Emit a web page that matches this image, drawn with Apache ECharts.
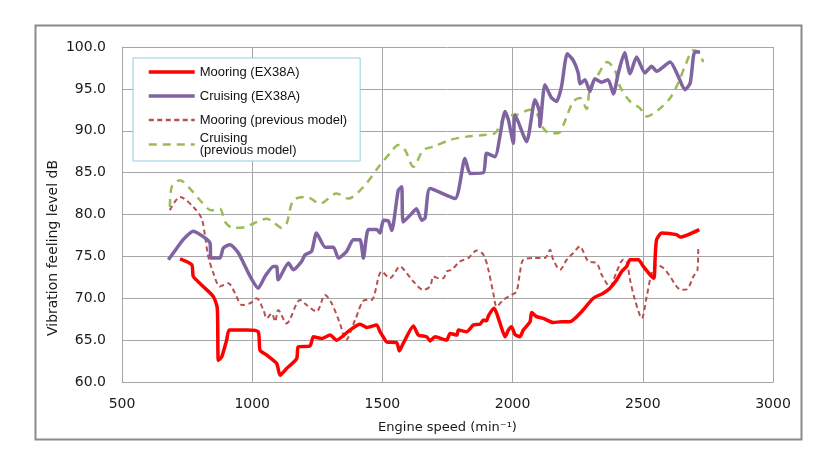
<!DOCTYPE html>
<html>
<head>
<meta charset="utf-8">
<script src="https://cdn.jsdelivr.net/npm/echarts@6/dist/echarts.min.js"></script>
<style>
html,body{margin:0;padding:0;background:#fff;}
#c{width:838px;height:470px;}
</style>
</head>
<body>
<div id="c"></div>
<script>
// ---- tick labels ----
const xTicks = [500, 1000, 1500, 2000, 2500, 3000];
const yTicks = [60, 65, 70, 75, 80, 85, 90, 95, 100];

// ---- series names ----
const seriesNames = ['Mooring (EX38A)', 'Cruising (EX38A)', 'Mooring (previous model)', 'Cruising\n(previous model)'];

// ---- Mooring (EX38A) ----
const mooringNewRpm = [723,768,774,812,851,866,870,883,902,912,979,1023,1030,1056,1094,1107,1132,1171,1177,1222,1235,1267,1299,1324,1375,1414,1440,1478,1491,1503,1516,1555,1565,1580,1619,1638,1670,1683,1702,1747,1760,1786,1792,1824,1849,1875,1888,1900,1907,1929,1939,1952,1971,1984,1996,2009,2028,2041,2067,2073,2092,2118,2156,2188,2220,2259,2310,2348,2374,2400,2419,2438,2451,2483,2502,2528,2543,2547,2553,2573,2630,2643,2675,2717];
const mooringNewDb  = [74.7,74.0,72.6,71.4,70.2,68.8,62.6,63.0,65.0,66.2,66.2,66.0,63.8,63.2,62.2,60.8,61.6,62.8,64.2,64.3,65.4,65.2,65.6,65.0,66.2,66.9,66.5,66.8,66.0,65.4,64.8,64.7,63.7,64.6,66.7,65.6,65.4,64.9,65.4,65.0,65.8,65.6,66.2,66.0,66.8,66.9,67.4,67.3,67.9,68.8,68.2,67.0,65.4,66.2,66.6,65.7,65.4,66.2,67.2,68.3,67.8,67.6,67.1,67.2,67.2,68.2,70.0,70.6,71.2,72.2,73.2,73.8,74.6,74.6,73.8,72.8,72.4,74.6,77.0,77.8,77.6,77.3,77.6,78.2];

// ---- Cruising (EX38A) ----
const cruisingNewRpm = [678,697,735,774,819,838,842,876,889,915,947,992,1023,1049,1081,1094,1100,1139,1158,1190,1203,1228,1247,1280,1312,1331,1363,1388,1414,1427,1446,1478,1491,1504,1523,1536,1561,1574,1580,1612,1631,1651,1664,1683,1779,1817,1837,1888,1900,1932,1971,1984,2003,2009,2054,2086,2103,2105,2124,2150,2169,2188,2210,2233,2252,2259,2278,2297,2316,2342,2367,2387,2406,2430,2451,2476,2508,2534,2553,2605,2636,2662,2682,2694,2700,2720];
const cruisingNewDb  = [74.6,75.4,77.0,78.0,77.2,76.6,74.8,74.8,76.0,76.4,75.4,72.6,71.2,72.6,73.8,73.8,72.2,74.2,73.4,74.4,75.2,75.6,77.8,76.1,76.1,74.8,75.6,77.0,77.0,74.8,78.2,78.2,77.8,79.3,79.2,78.1,82.9,83.3,79.1,80.1,80.7,79.3,79.6,83.1,81.9,86.7,84.9,85.0,87.3,86.9,92.3,91.3,88.5,91.9,88.7,93.7,92.3,90.5,95.5,93.9,93.5,95.3,99.2,98.4,96.9,95.6,96.1,94.7,96.2,95.8,96.1,94.4,96.9,99.3,96.8,98.8,96.9,97.7,97.1,98.2,96.5,94.9,95.7,98.8,99.4,99.4];

// ---- Mooring (previous model) ----
const mooringOldRpm = [684,723,774,806,819,831,851,876,908,934,960,992,1017,1043,1056,1075,1088,1100,1132,1184,1209,1247,1280,1305,1337,1360,1395,1433,1458,1497,1529,1568,1593,1619,1657,1683,1696,1715,1734,1747,1766,1798,1830,1862,1888,1907,1926,1939,1964,1996,2015,2028,2041,2080,2124,2144,2156,2182,2208,2233,2259,2271,2291,2323,2342,2374,2400,2425,2438,2451,2470,2496,2515,2534,2553,2579,2605,2630,2649,2671,2694,2710,2713];
const mooringOldDb  = [80.5,82.1,80.9,79.5,77.4,75.0,73.0,71.4,71.8,70.6,69.2,69.4,70.0,68.6,67.6,68.2,67.2,68.6,67.0,69.8,69.2,68.4,70.4,69.4,67.0,65.0,67.4,69.8,69.8,73.2,72.4,73.8,73.0,72.0,71.0,71.4,72.6,72.4,72.4,73.2,73.4,74.4,74.8,75.7,75.2,73.4,70.6,69.0,69.8,70.4,70.8,73.0,74.6,74.8,74.8,75.8,74.6,73.4,74.6,75.4,76.2,75.6,74.4,74.2,72.8,71.4,73.2,74.6,74.4,72.2,69.8,67.6,70.2,73.0,74.0,73.6,72.6,71.4,71.0,71.1,72.6,73.4,76.2];

// ---- Cruising (previous model) ----
const cruisingOldRpm = [684,691,723,761,800,844,876,896,927,972,1004,1056,1081,1113,1132,1158,1209,1260,1324,1369,1427,1491,1529,1561,1587,1619,1657,1696,1760,1824,1888,1932,1971,2015,2067,2092,2118,2144,2176,2195,2233,2259,2284,2297,2323,2364,2393,2412,2451,2489,2515,2560,2605,2636,2662,2694,2713,2732];
const cruisingOldDb  = [80.9,83.3,84.1,83.1,81.7,80.5,80.7,79.1,78.4,78.5,78.9,79.5,79.1,78.4,78.9,81.7,82.1,81.3,82.5,81.9,83.3,85.9,87.3,88.3,87.7,85.7,87.7,88.1,88.9,89.3,89.5,89.7,91.7,91.9,92.5,92.1,90.3,89.7,89.7,90.7,93.5,93.9,92.6,95.1,96.4,98.2,97.2,95.3,93.5,92.7,91.7,92.5,93.9,95.7,97.7,99.6,99.4,98.2];

function pairs(xs, ys) { return xs.map((x, i) => [x, ys[i]]); }

const chart = echarts.init(document.getElementById('c'), null, {renderer: 'canvas'});
const gridColor = '#a6a6a6';
const labelFont = 'DejaVu Sans';

chart.setOption({
  animation: false,
  backgroundColor: '#fff',
  grid: {left: 122, right: 65, top: 47, bottom: 88, containLabel: false},
  xAxis: {
    type: 'value',
    min: xTicks[0], max: xTicks[xTicks.length - 1], interval: xTicks[1] - xTicks[0],
    name: 'Engine speed (min\u207B\u00B9)',
    nameLocation: 'middle', nameGap: 39,
    nameTextStyle: {fontFamily: labelFont, fontSize: 13, color: '#1a1a1a'},
    axisLine: {show: true, lineStyle: {color: gridColor, width: 1}},
    axisTick: {show: false},
    axisLabel: {margin: 15, fontFamily: labelFont, fontSize: 14, color: '#1a1a1a',
      formatter: v => String(v)},
    splitLine: {show: true, lineStyle: {color: gridColor, width: 1}}
  },
  yAxis: {
    type: 'value',
    min: yTicks[0], max: yTicks[yTicks.length - 1], interval: yTicks[1] - yTicks[0],
    axisLine: {show: true, lineStyle: {color: gridColor, width: 1}},
    axisTick: {show: false},
    axisLabel: {margin: 16, fontFamily: labelFont, fontSize: 14, color: '#1a1a1a',
      formatter: v => v.toFixed(1)},
    splitLine: {show: true, lineStyle: {color: gridColor, width: 1}}
  },
  legend: {
    orient: 'vertical', left: 133, top: 58,
    padding: [2, 13, 4, 14],
    itemWidth: 46, itemHeight: 14, itemGap: 0,
    borderColor: '#92cddc', borderWidth: 1, backgroundColor: '#fff',
    itemStyle: {color: 'rgba(0,0,0,0)', opacity: 0, borderWidth: 0},
    textStyle: {fontFamily: 'Liberation Sans', fontSize: 13, color: '#111', lineHeight: 24},
    data: [
      {name: seriesNames[0], lineStyle: {width: 3.5}},
      {name: seriesNames[1], lineStyle: {width: 3.5}},
      {name: seriesNames[2], lineStyle: {width: 2.5}},
      {name: seriesNames[3], lineStyle: {width: 2.5}, textStyle: {lineHeight: 12}}
    ],
    z: 10
  },
  graphic: [
    {type: 'rect', z: -10, silent: true,
     shape: {x: 35.5, y: 25.5, width: 766, height: 414},
     style: {fill: 'none', stroke: '#8a8a8a', lineWidth: 2}},
    {type: 'text', silent: true, x: 53, y: 248, rotation: Math.PI / 2,
     style: {text: 'Vibration feeling level dB', fontFamily: labelFont, fontSize: 14,
       fill: '#1a1a1a', align: 'center', verticalAlign: 'middle'}}
  ],
  series: [
    {name: seriesNames[0], type: 'line', data: pairs(mooringNewRpm, mooringNewDb),
     symbol: 'none', smooth: 0.2, z: 4,
     lineStyle: {color: '#ff0000', width: 3.5}, itemStyle: {color: '#ff0000'}},
    {name: seriesNames[1], type: 'line', data: pairs(cruisingNewRpm, cruisingNewDb),
     symbol: 'none', smooth: 0.2, z: 4,
     lineStyle: {color: '#8064a2', width: 3.5}, itemStyle: {color: '#8064a2'}},
    {name: seriesNames[2], type: 'line', data: pairs(mooringOldRpm, mooringOldDb),
     symbol: 'none', smooth: 0.3, z: 3,
     lineStyle: {color: '#b9504e', width: 2, type: [5, 3.5]}, itemStyle: {color: '#b9504e'}},
    {name: seriesNames[3], type: 'line', data: pairs(cruisingOldRpm, cruisingOldDb),
     symbol: 'none', smooth: 0.3, z: 3,
     lineStyle: {color: '#9bbb59', width: 2.5, type: [8, 6]}, itemStyle: {color: '#9bbb59'}}
  ]
});
</script>
</body>
</html>
